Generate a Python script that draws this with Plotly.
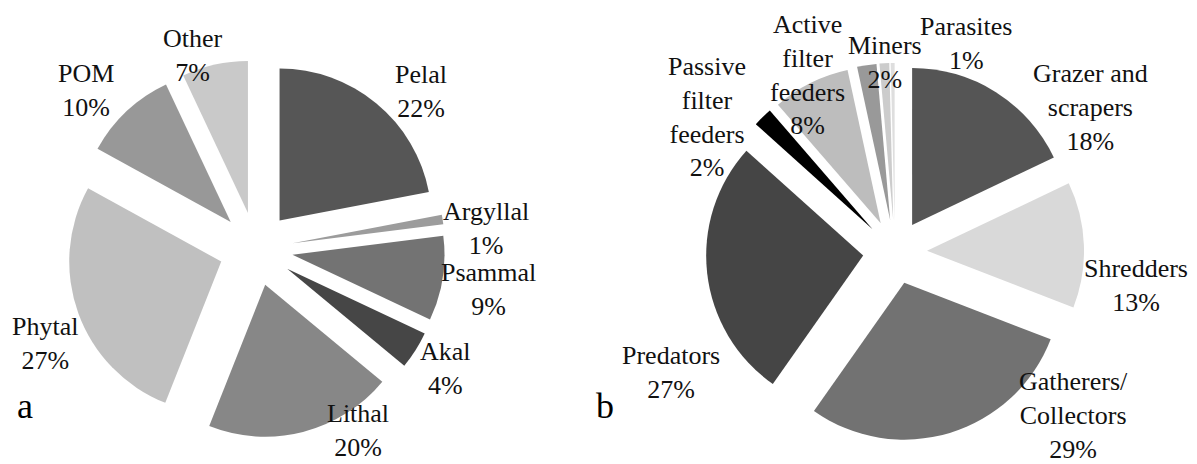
import plotly.graph_objects as go

# Panel a: habitat preferences
habitat_labels = ["Pelal", "Argyllal", "Psammal", "Akal", "Lithal", "Phytal", "POM", "Other"]
habitat_values = [22, 1, 9, 4, 20, 27, 10, 7]
habitat_colors = ["#565656", "#9c9c9c", "#737373", "#464646", "#878787", "#c0c0c0", "#989898", "#c9c9c9"]

# Panel b: feeding types
feeding_labels = ["Grazer and<br>scrapers", "Shredders", "Gatherers/<br>Collectors", "Predators",
                  "Passive<br>filter<br>feeders", "Active<br>filter<br>feeders", "Miners", "Parasites", ""]
feeding_values = [18, 13, 29, 27, 2, 8, 2, 1, 0.4]
feeding_colors = ["#555555", "#d9d9d9", "#727272", "#454545", "#000000", "#bdbdbd", "#999999", "#cccccc", "#dedede"]

# label block centres (page pixels from top-left), layout only
habitat_label_pos = [(421, 91), (486, 229), (488, 289), (445, 368), (358, 430), (45, 343), (86, 90), (193, 56)]
feeding_label_pos = [(1090, 108), (1136, 285), (1073, 415), (671, 372), (707, 117), (807, 75), (885, 63), (966, 43), None]

FONT = "Liberation Serif"
W, H = 1197, 464
OFF = 8  # page body margin


def pie_domain(cx, cy, r, pull):
    half = r * (1 + pull)
    cx, cy = cx - OFF, cy - OFF
    return dict(x=[(cx - half) / W, (cx + half) / W],
                y=[(H - (cy + half)) / H, (H - (cy - half)) / H])


fig = go.Figure()
fig.add_trace(go.Pie(
    labels=habitat_labels, values=habitat_values,
    textinfo="none", sort=False, direction="clockwise", rotation=0,
    pull=[0.243] * len(habitat_values),
    marker=dict(colors=habitat_colors, line=dict(width=0)),
    domain=pie_domain(256, 249, 152, 0.243),
    showlegend=False, hoverinfo="label+percent",
))
fig.add_trace(go.Pie(
    labels=[l if l else "unlabelled" for l in feeding_labels], values=feeding_values,
    textinfo="none", sort=False, direction="clockwise", rotation=0,
    pull=[0.204] * len(feeding_values),
    marker=dict(colors=feeding_colors, line=dict(width=0)),
    domain=pie_domain(895, 252, 157, 0.204),
    showlegend=False, hoverinfo="label+percent",
))


def add_labels(labels, values, positions):
    for l, v, p in zip(labels, values, positions):
        if not l or p is None:
            continue
        fig.add_annotation(text=f"{l}<br>{v:g}%", x=(p[0] - OFF) / W, y=1 - (p[1] - OFF) / H,
                           xref="paper", yref="paper", xanchor="center", yanchor="middle",
                           showarrow=False, align="center",
                           font=dict(family=FONT, size=26, color="#111111"))


add_labels(habitat_labels, habitat_values, habitat_label_pos)
add_labels(feeding_labels, feeding_values, feeding_label_pos)

for letter, lx in (("a", 7), ("b", 586)):
    fig.add_annotation(text=letter, x=lx / W, y=1 - 420 / H, xref="paper", yref="paper",
                       xanchor="left", yanchor="bottom", showarrow=False,
                       font=dict(family=FONT, size=36, color="#000000"))

fig.update_layout(
    width=W, height=H,
    margin=dict(l=0, r=0, t=0, b=0),
    paper_bgcolor="white", plot_bgcolor="white",
    font=dict(family=FONT),
)

fig.write_html("out.html")
